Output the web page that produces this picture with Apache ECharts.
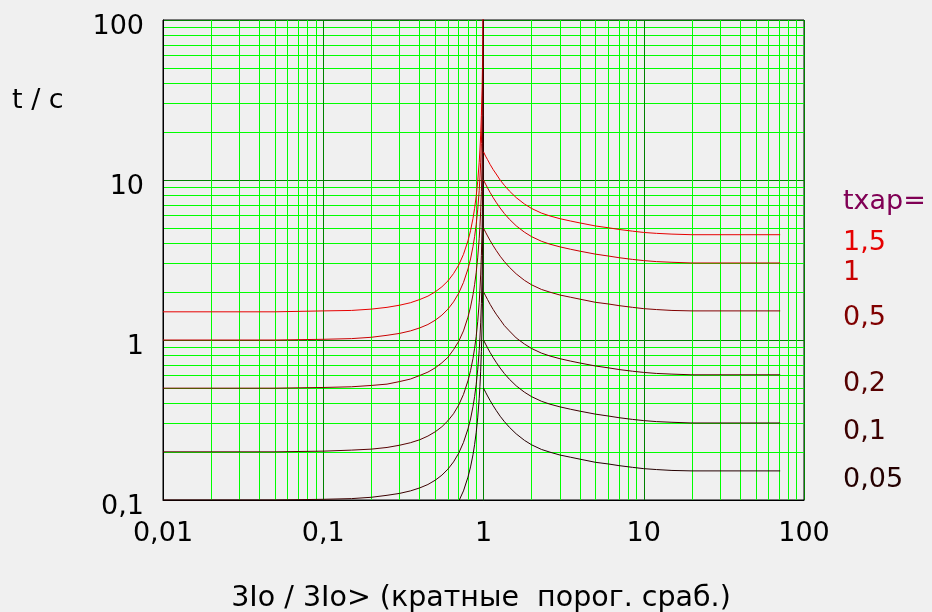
<!DOCTYPE html>
<html>
<head>
<meta charset="utf-8">
<script src="https://cdn.jsdelivr.net/npm/echarts@6/dist/echarts.min.js"></script>
<style>
  html, body { margin: 0; padding: 0; background: #f0f0f0; }
  #chart { width: 932px; height: 612px; }
</style>
</head>
<body>
<div id="chart"></div>
<script>
// multiples of the threshold (x) and trip times in s (y)
const xLeft = [0.01, 0.05, 0.1, 0.15, 0.2, 0.25, 0.3, 0.35, 0.4, 0.45, 0.5, 0.55, 0.6, 0.65, 0.7, 0.75, 0.8, 0.83, 0.86, 0.88, 0.9, 0.92, 0.94, 0.95, 0.96, 0.97, 0.98, 0.985, 0.99, 0.995, 0.998, 0.999];
const xRight = [1, 1.03, 1.06, 1.1, 1.15, 1.2, 1.27, 1.35, 1.45, 1.6, 1.8, 2, 2.3, 2.6, 3, 3.5, 4, 5, 6, 7, 8.5, 10, 12, 15, 20, 71];

const t15Left = [1.5, 1.5, 1.52, 1.53, 1.56, 1.6, 1.65, 1.71, 1.79, 1.88, 2.0, 2.15, 2.34, 2.6, 2.94, 3.43, 4.17, 4.82, 5.76, 6.65, 7.89, 9.77, 12.9, 15.4, 19.1, 25.4, 37.9, 50.4, 75.4, 150, 375, 750];
const t1Left = [1.0, 1.0, 1.01, 1.02, 1.04, 1.07, 1.1, 1.14, 1.19, 1.25, 1.33, 1.43, 1.56, 1.73, 1.96, 2.29, 2.78, 3.21, 3.84, 4.43, 5.26, 6.51, 8.59, 10.3, 12.8, 16.9, 25.3, 33.6, 50.3, 100, 250, 500];
const t05Left = [0.5, 0.5, 0.505, 0.51, 0.52, 0.53, 0.55, 0.57, 0.6, 0.63, 0.67, 0.72, 0.78, 0.87, 0.98, 1.14, 1.39, 1.61, 1.92, 2.22, 2.63, 3.26, 4.3, 5.13, 6.38, 8.46, 12.6, 16.8, 25.1, 50, 125, 250];
const t02Left = [0.2, 0.2, 0.202, 0.205, 0.208, 0.213, 0.22, 0.228, 0.238, 0.251, 0.267, 0.287, 0.313, 0.346, 0.392, 0.457, 0.556, 0.643, 0.768, 0.887, 1.05, 1.3, 1.72, 2.05, 2.55, 3.38, 5.05, 6.72, 10.1, 20, 50, 100];
const t01Left = [0.1, 0.1, 0.101, 0.102, 0.104, 0.107, 0.11, 0.114, 0.119, 0.125, 0.133, 0.143, 0.156, 0.173, 0.196, 0.229, 0.278, 0.321, 0.384, 0.443, 0.526, 0.651, 0.859, 1.03, 1.28, 1.69, 2.53, 3.36, 5.03, 10, 25, 50];
const t005Left = [0.05, 0.05, 0.0505, 0.051, 0.052, 0.053, 0.055, 0.057, 0.06, 0.063, 0.067, 0.072, 0.078, 0.087, 0.098, 0.114, 0.139, 0.161, 0.192, 0.222, 0.263, 0.326, 0.43, 0.513, 0.638, 0.846, 1.26, 1.68, 2.51, 5, 12.5, 25];

const t15Right = [15, 14.1, 13.4, 12.5, 11.6, 10.9, 10.0, 9.26, 8.54, 7.76, 7.08, 6.63, 6.21, 5.96, 5.73, 5.54, 5.39, 5.16, 5.03, 4.91, 4.79, 4.70, 4.64, 4.59, 4.55, 4.55];
const t1Right = [10, 9.43, 8.93, 8.35, 7.75, 7.25, 6.68, 6.17, 5.69, 5.17, 4.72, 4.42, 4.14, 3.97, 3.82, 3.69, 3.59, 3.44, 3.35, 3.27, 3.19, 3.135, 3.09, 3.06, 3.03, 3.03];
const t05Right = [5, 4.72, 4.47, 4.18, 3.88, 3.63, 3.34, 3.09, 2.85, 2.59, 2.36, 2.21, 2.07, 1.99, 1.91, 1.85, 1.80, 1.72, 1.68, 1.64, 1.60, 1.57, 1.55, 1.53, 1.52, 1.52];
const t02Right = [2, 1.89, 1.79, 1.67, 1.55, 1.45, 1.34, 1.23, 1.14, 1.03, 0.944, 0.884, 0.828, 0.794, 0.764, 0.738, 0.718, 0.688, 0.67, 0.654, 0.638, 0.627, 0.618, 0.612, 0.606, 0.606];
const t01Right = [1, 0.943, 0.893, 0.835, 0.775, 0.725, 0.668, 0.617, 0.569, 0.517, 0.472, 0.442, 0.414, 0.397, 0.382, 0.369, 0.359, 0.344, 0.335, 0.327, 0.319, 0.3135, 0.309, 0.306, 0.303, 0.303];
const t005Right = [0.5, 0.472, 0.447, 0.418, 0.388, 0.363, 0.334, 0.309, 0.285, 0.259, 0.236, 0.221, 0.207, 0.199, 0.191, 0.185, 0.18, 0.172, 0.168, 0.164, 0.16, 0.157, 0.155, 0.153, 0.152, 0.152];

const txapLabels = ['1,5', '1', '0,5', '0,2', '0,1', '0,05'];
const curveColors = ['#e60000', '#c80000', '#800000', '#560000', '#3c0000', '#240000'];
const leftCurves = [t15Left, t1Left, t05Left, t02Left, t01Left, t005Left];
const rightCurves = [t15Right, t1Right, t05Right, t02Right, t01Right, t005Right];

const xTickLabels = ['0,01', '0,1', '1', '10', '100'];
const yTickLabels = ['0,1', '1', '10', '100'];

const font = 'DejaVu Sans';
const labelY = [243, 273, 318, 384, 432, 480];

const pairs = (xs, ys) => xs.map((x, i) => [x, ys[i]]);

const chart = echarts.init(document.getElementById('chart'));

const series = [];
leftCurves.forEach((ys, i) => {
  series.push({
    type: 'line', z: 5, data: pairs(xLeft, ys), showSymbol: false,
    lineStyle: { color: curveColors[i], width: 1 }
  });
});
rightCurves.forEach((ys, i) => {
  series.push({
    type: 'line', z: 5, data: pairs(xRight, ys), showSymbol: false,
    lineStyle: { color: curveColors[i], width: 1 }
  });
});

const graphic = [
  { type: 'text', left: 12, top: 87, style: { text: 't / c', font: '27px "DejaVu Sans"', fill: '#000' } },
  { type: 'text', x: 481, y: 599, style: { text: '3Io / 3Io> (кратные  порог. сраб.)', font: '28.5px "DejaVu Sans"', fill: '#000', textAlign: 'center', textVerticalAlign: 'middle' } },
  { type: 'text', x: 843, y: 202, style: { text: 'txap=', font: '27px "DejaVu Sans"', fill: '#800055', textVerticalAlign: 'middle' } }
];
txapLabels.forEach((t, i) => {
  graphic.push({ type: 'text', x: 843, y: labelY[i], z: 10, style: { text: t, font: '27px "DejaVu Sans"', fill: curveColors[i], textVerticalAlign: 'middle' } });
});

// minor ticks split each decade into 9 equal value steps: 2, 3, ... 9
const minorTick = { show: false, splitNumber: 9 };
const minorSplitLine = { show: true, lineStyle: { color: '#00ff00', width: 1 } };
const splitLine = { show: true, lineStyle: { color: '#008000', width: 1 } };

const option = {
  backgroundColor: '#f0f0f0',
  animation: false,
  grid: { left: 163, right: 128, top: 20, bottom: 112, show: true, borderColor: '#000', borderWidth: 1, backgroundColor: 'transparent' },
  xAxis: {
    type: 'log', logBase: 10, min: 0.01, max: 100, splitNumber: 4,
    axisLine: { lineStyle: { color: '#000' } },
    axisTick: { show: false },
    minorTick: minorTick,
    minorSplitLine: minorSplitLine,
    splitLine: splitLine,
    axisLabel: {
      color: '#000', fontFamily: font, fontSize: 27, margin: 20,
      hideOverlap: false,
      formatter: v => xTickLabels[Math.round(Math.log10(v)) + 2]
    }
  },
  yAxis: {
    type: 'log', logBase: 10, min: 0.1, max: 100, splitNumber: 3,
    axisLine: { lineStyle: { color: '#000' } },
    axisTick: { show: false },
    minorTick: minorTick,
    minorSplitLine: minorSplitLine,
    splitLine: splitLine,
    axisLabel: {
      color: '#000', fontFamily: font, fontSize: 27, margin: 19,
      hideOverlap: false,
      formatter: v => '{s| }\n' + yTickLabels[Math.round(Math.log10(v)) + 1],
      rich: { s: { fontSize: 10, lineHeight: 13 } }
    }
  },
  graphic: graphic,
  series: series
};

chart.setOption(option);
</script>
</body>
</html>
